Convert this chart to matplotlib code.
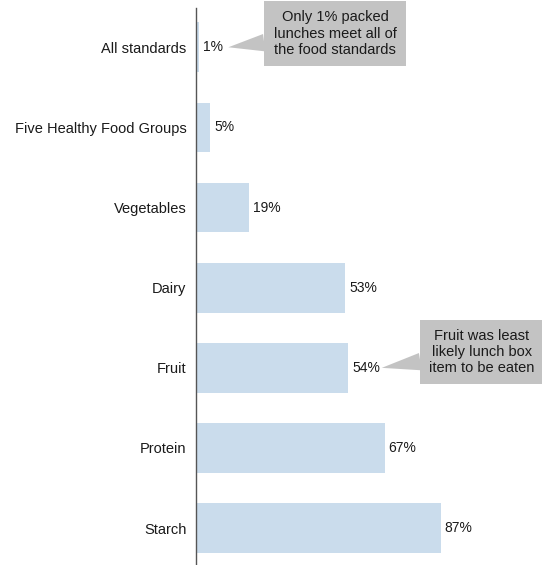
import matplotlib
matplotlib.use("Agg")
import matplotlib.pyplot as plt

plt.rcParams['font.family'] = ['Liberation Sans', 'DejaVu Sans']

categories = ['All standards', 'Five Healthy Food Groups', 'Vegetables', 'Dairy',
              'Fruit', 'Protein', 'Starch']
values = [1, 5, 19, 53, 54, 67, 87]

bar_color = '#cadcec'
box_color = '#c3c3c3'

fig = plt.figure(figsize=(5.42, 5.65), dpi=100)
ax = fig.add_axes([196 / 542, 0, 1 - 196 / 542, 557 / 565])

ypos = [len(categories) - 1 - i for i in range(len(categories))]
ax.barh(ypos, values, height=0.62, color=bar_color, edgecolor='none')

for y, v in zip(ypos, values):
    ax.text(v + 1.4, y, f'{v}%', va='center', ha='left', fontsize=10, color='#1a1a1a')

ax.set_xlim(0, 122.9)
ax.set_ylim(-0.46, 6.49)
ax.set_yticks(ypos)
ax.set_yticklabels(categories, fontsize=10.5, color='#1a1a1a')
ax.tick_params(axis='y', length=0, pad=7)
ax.set_xticks([])
for s in ['top', 'right', 'bottom']:
    ax.spines[s].set_visible(False)
ax.spines['left'].set_color('#555555')
ax.spines['left'].set_linewidth(1.0)

# callouts
ax.annotate('Only 1% packed\nlunches meet all of\nthe food standards',
            xy=(values[0] + 10.5, ypos[0]), xytext=(49.4, ypos[0] + 0.17),
            ha='center', va='center', fontsize=10.5, color='#1a1a1a',
            bbox=dict(boxstyle='square,pad=0.65', fc=box_color, ec='none'),
            arrowprops=dict(arrowstyle='wedge,tail_width=1.2,shrink_factor=0.5',
                            fc=box_color, ec='none', shrinkA=0, shrinkB=0))
ax.annotate('Fruit was least\nlikely lunch box\nitem to be eaten',
            xy=(values[4] + 12, ypos[4]), xytext=(101.5, ypos[4] + 0.2),
            ha='center', va='center', fontsize=10.5, color='#1a1a1a',
            bbox=dict(boxstyle='square,pad=0.6', fc=box_color, ec='none'),
            arrowprops=dict(arrowstyle='wedge,tail_width=1.2,shrink_factor=0.5',
                            fc=box_color, ec='none', shrinkA=0, shrinkB=0))

fig.savefig('out.png', dpi=100)
